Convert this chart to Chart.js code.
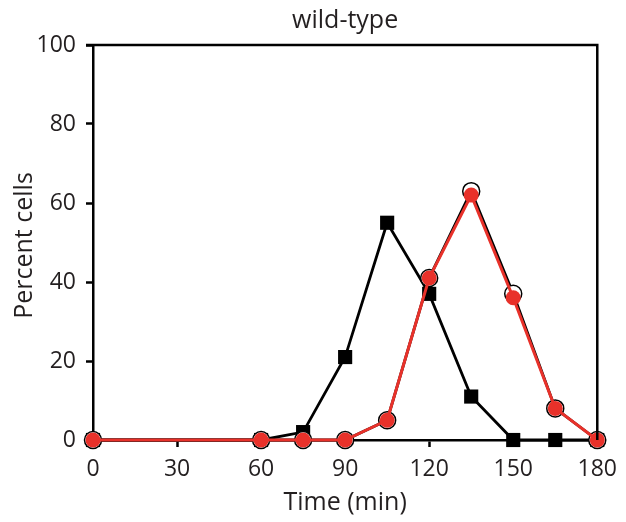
<!DOCTYPE html>
<html>
<head>
<meta charset="utf-8">
<script src="https://cdn.jsdelivr.net/npm/chart.js@4/dist/chart.umd.min.js"></script>
<style>
  html, body { margin: 0; padding: 0; background: #fff; }
  #wrap { width: 626px; height: 522px; }
</style>
</head>
<body>
<div id="wrap"><canvas id="c" width="626" height="522"></canvas></div>
<script>
// Time points (min)
const times = [0, 60, 75, 90, 105, 120, 135, 150, 165, 180];
// Percent cells per marker
const squares = [0, 0, 2, 21, 55, 37, 11, 0, 0, 0];
const openCircles = [0, 0, 0, 0, 5, 41, 63, 37, 8, 0];
const redCircles = [0, 0, 0, 0, 5, 41, 62, 36, 8, 0];
const xTicks = [0, 30, 60, 90, 120, 150, 180];
const yTicks = [0, 20, 40, 60, 80, 100];

const FONT = '"Open Sans", "DejaVu Sans", sans-serif';
const TXT = '#231f20';

const pts = (vals) => times.map((t, i) => ({ x: t, y: vals[i] }));

// Frame on top/right plus the titles
const framePlugin = {
  id: 'frame',
  afterDraw(chart) {
    const { ctx, chartArea: a } = chart;
    const cx = (a.left + a.right) / 2;
    const cy = (a.top + a.bottom) / 2;
    ctx.save();
    ctx.strokeStyle = '#000';
    ctx.lineWidth = 2.5;
    ctx.beginPath();
    ctx.moveTo(a.left - 7, a.top);
    ctx.lineTo(a.right, a.top);
    ctx.lineTo(a.right, a.bottom);
    ctx.stroke();

    ctx.fillStyle = TXT;
    ctx.font = '25px ' + FONT;
    ctx.textAlign = 'center';
    ctx.textBaseline = 'alphabetic';
    ctx.fillText('wild-type', cx, 28);
    ctx.fillText('Time (min)', cx, 510);
    ctx.translate(32, cy + 3);
    ctx.rotate(-Math.PI / 2);
    ctx.fillText('Percent cells', 0, 0);
    ctx.restore();
  }
};

new Chart(document.getElementById('c'), {
  type: 'line',
  data: {
    datasets: [
      {
        data: pts(squares),
        borderColor: '#000',
        borderWidth: 2.8,
        backgroundColor: '#000',
        pointStyle: 'rect',
        pointRadius: 10,
        pointBorderWidth: 0,
        pointBackgroundColor: '#000',
        clip: false,
        order: 3
      },
      {
        data: pts(openCircles),
        borderColor: '#000',
        borderWidth: 2.8,
        pointStyle: 'circle',
        pointRadius: 8.5,
        pointBorderWidth: 1.5,
        pointBorderColor: '#000',
        pointBackgroundColor: '#fff',
        clip: false,
        order: 2
      },
      {
        data: pts(redCircles),
        borderColor: '#e8312a',
        borderWidth: 3,
        pointStyle: 'circle',
        pointRadius: 7.5,
        pointBorderWidth: 0,
        pointBackgroundColor: '#e8312a',
        clip: false,
        order: 1
      }
    ]
  },
  options: {
    responsive: false,
    animation: false,
    layout: { padding: { left: 0, top: 45, right: 24, bottom: 0 } },
    plugins: { legend: { display: false }, tooltip: { enabled: false }, title: { display: false } },
    scales: {
      x: {
        type: 'linear',
        min: 0,
        max: 180,
        afterBuildTicks: (s) => { s.ticks = xTicks.map(v => ({ value: v })); },
        afterFit: (s) => { s.height = 82; },
        border: { color: '#000', width: 2.5 },
        grid: { drawOnChartArea: false, drawTicks: true, tickLength: 7, tickWidth: 2.5, tickColor: '#000' },
        ticks: { color: TXT, font: { family: FONT, size: 23 }, padding: 9, maxRotation: 0 }
      },
      y: {
        min: 0,
        max: 100,
        afterBuildTicks: (s) => { s.ticks = yTicks.map(v => ({ value: v })); },
        afterFit: (s) => { s.width = 93; },
        border: { color: '#000', width: 2.5 },
        grid: { drawOnChartArea: false, drawTicks: true, tickLength: 7, tickWidth: 2.5, tickColor: '#000' },
        ticks: { color: TXT, font: { family: FONT, size: 23 }, padding: 10 }
      }
    }
  },
  plugins: [framePlugin]
});
</script>
</body>
</html>
